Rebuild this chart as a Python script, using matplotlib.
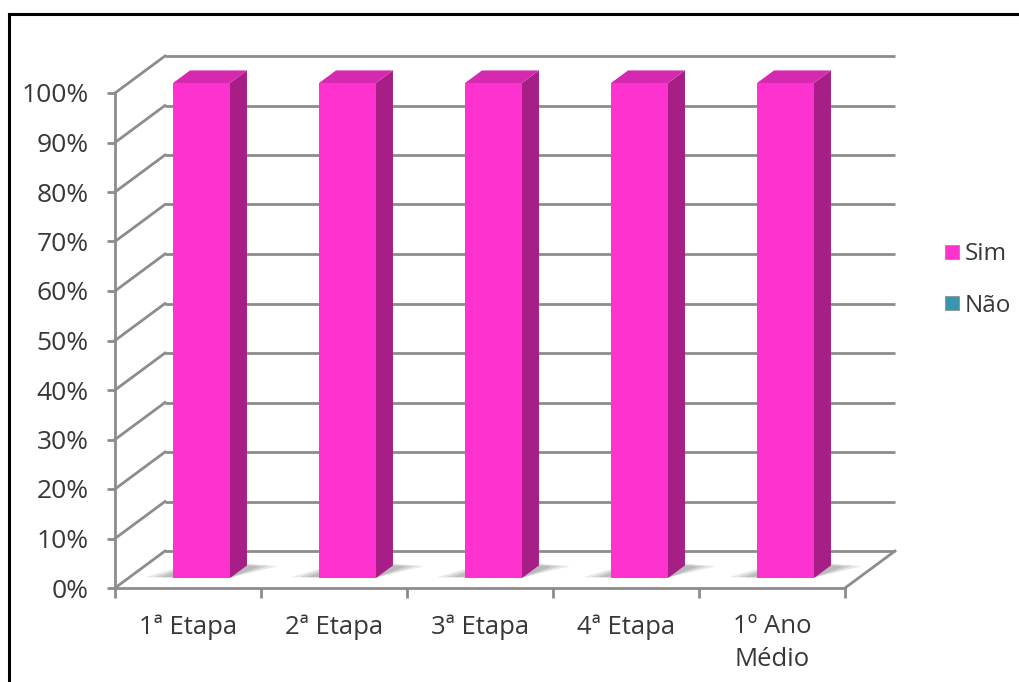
import numpy as np
import matplotlib
matplotlib.use("Agg")
import matplotlib.pyplot as plt
from matplotlib import transforms
from matplotlib.patches import Polygon
from matplotlib.lines import Line2D
from matplotlib.ticker import PercentFormatter

# data
categories = ["1ª Etapa", "2ª Etapa", "3ª Etapa", "4ª Etapa", "1º Ano\nMédio"]
sim = [1.0, 1.0, 1.0, 1.0, 1.0]
nao = [0.0, 0.0, 0.0, 0.0, 0.0]
series_names = ["Sim", "Não"]
y_ticks = np.arange(0, 1.01, 0.1)

pink_front = "#fd32cf"
pink_side = "#a61e86"
pink_top = "#d52ab0"
teal = "#3a95ad"
grid_col = "#8c8c8c"
text_col = "#383838"

plt.rcParams["font.family"] = ["Open Sans", "DejaVu Sans"]

W, H = 1019, 682
fig = plt.figure(figsize=(W / 100, H / 100), dpi=100)
fig.patch.set_facecolor("white")

# front plane of the plot box, in pixels
x0, x1 = 115, 845
y0, y1 = 588, 93
ax = fig.add_axes([x0 / W, 1 - y0 / H, (x1 - x0) / W, (y0 - y1) / H])
ax.set_xlim(0, len(categories))
ax.set_ylim(0, 1)
ax.patch.set_visible(False)

# depth offset (pixels) for the back wall
DX, DY = 50, 37


def proj(x, y, d):
    px, py = ax.transData.transform((x, y))
    return (px + d * DX, py + d * DY)


ident = transforms.IdentityTransform()

# back wall gridlines + diagonals on the left wall
back = transforms.offset_copy(ax.transData, fig=fig, x=DX, y=DY, units="dots")
ax.hlines(y_ticks, 0, len(categories), transform=back, color=grid_col,
          lw=2, clip_on=False, zorder=1)
for v in y_ticks:
    a = proj(0, v, 0)
    b = proj(0, v, 1)
    ax.add_line(Line2D([a[0], b[0]], [a[1], b[1]], transform=ident,
                       color=grid_col, lw=2, clip_on=False, zorder=1))
# floor right edge
a = proj(len(categories), 0, 0)
b = proj(len(categories), 0, 1)
ax.add_line(Line2D([a[0], b[0]], [a[1], b[1]], transform=ident,
                   color=grid_col, lw=2, clip_on=False, zorder=1))

# bars
bw = 0.39
d0, d1 = 0.27, 0.61
xc = np.arange(len(categories)) + 0.5
for i, v in enumerate(sim):
    xl, xr = xc[i] - bw / 2, xc[i] + bw / 2
    # soft shadow on the floor
    for k, al in [(1.0, 0.2), (0.7, 0.25), (0.45, 0.3)]:
        sh = [proj(xl - 0.2 * k, 0, d0 + 0.02), proj(xr, 0, d0 + 0.02),
              proj(xr + 0.22 * k, 0, d1 - 0.02), proj(xl + 0.05, 0, d1 + 0.15 * k)]
        ax.add_patch(Polygon(sh, closed=True, transform=ident,
                             facecolor="#8a8a8a", edgecolor="none", alpha=al,
                             clip_on=False, zorder=2))
    side = [proj(xr, 0, d0), proj(xr, 0, d1), proj(xr, v, d1), proj(xr, v, d0)]
    ax.add_patch(Polygon(side, closed=True, transform=ident, facecolor=pink_side,
                         edgecolor="none", clip_on=False, zorder=3))
    top = [proj(xl, v, d0), proj(xr, v, d0), proj(xr, v, d1), proj(xl, v, d1)]
    ax.add_patch(Polygon(top, closed=True, transform=ident, facecolor=pink_top,
                         edgecolor="none", clip_on=False, zorder=3))

front = transforms.offset_copy(ax.transData, fig=fig, x=d0 * DX, y=d0 * DY,
                               units="dots")
ax.bar(xc, sim, width=bw, color=pink_front, edgecolor="none",
       transform=front, clip_on=False, zorder=4)

# axes styling
for s in ["top", "right"]:
    ax.spines[s].set_visible(False)
for s in ["left", "bottom"]:
    ax.spines[s].set_color(grid_col)
    ax.spines[s].set_linewidth(2)
    ax.spines[s].set_zorder(1)

ax.set_yticks(y_ticks)
ax.yaxis.set_major_formatter(PercentFormatter(1.0, decimals=0))
ax.tick_params(axis="y", direction="out", length=6, width=2, color=grid_col,
               labelsize=19, labelcolor=text_col, pad=13)

ax.set_xticks(np.arange(len(categories) + 1))
ax.set_xticklabels([])
ax.set_xticks(xc, minor=True)
ax.set_xticklabels(categories, minor=True, linespacing=1.4)
ax.tick_params(axis="x", which="major", direction="out", length=7, width=2,
               color=grid_col)
ax.tick_params(axis="x", which="minor", length=0, labelsize=18.5,
               labelcolor=text_col, pad=19)

# legend
handles = [Line2D([], [], marker="s", linestyle="none", markersize=10,
                  markerfacecolor=c, markeredgecolor="#909090",
                  markeredgewidth=0.6) for c in [pink_front, teal]]
fig.legend(handles, series_names, loc="center left",
           bbox_to_anchor=(942 / W, 1 - 280 / H), frameon=False,
           fontsize=17.5, handletextpad=0.15, labelspacing=1.15,
           labelcolor=text_col, handlelength=0.8, borderpad=0,
           borderaxespad=0)

# outer frame (left and top edges visible)
fig.add_artist(Line2D([9 / W, 9 / W], [0, 1 - 14 / H], transform=fig.transFigure,
                      color="black", lw=2.2))
fig.add_artist(Line2D([9 / W, 1], [1 - 14 / H, 1 - 14 / H],
                      transform=fig.transFigure, color="black", lw=2.2))

fig.savefig("out.png", dpi=100)
